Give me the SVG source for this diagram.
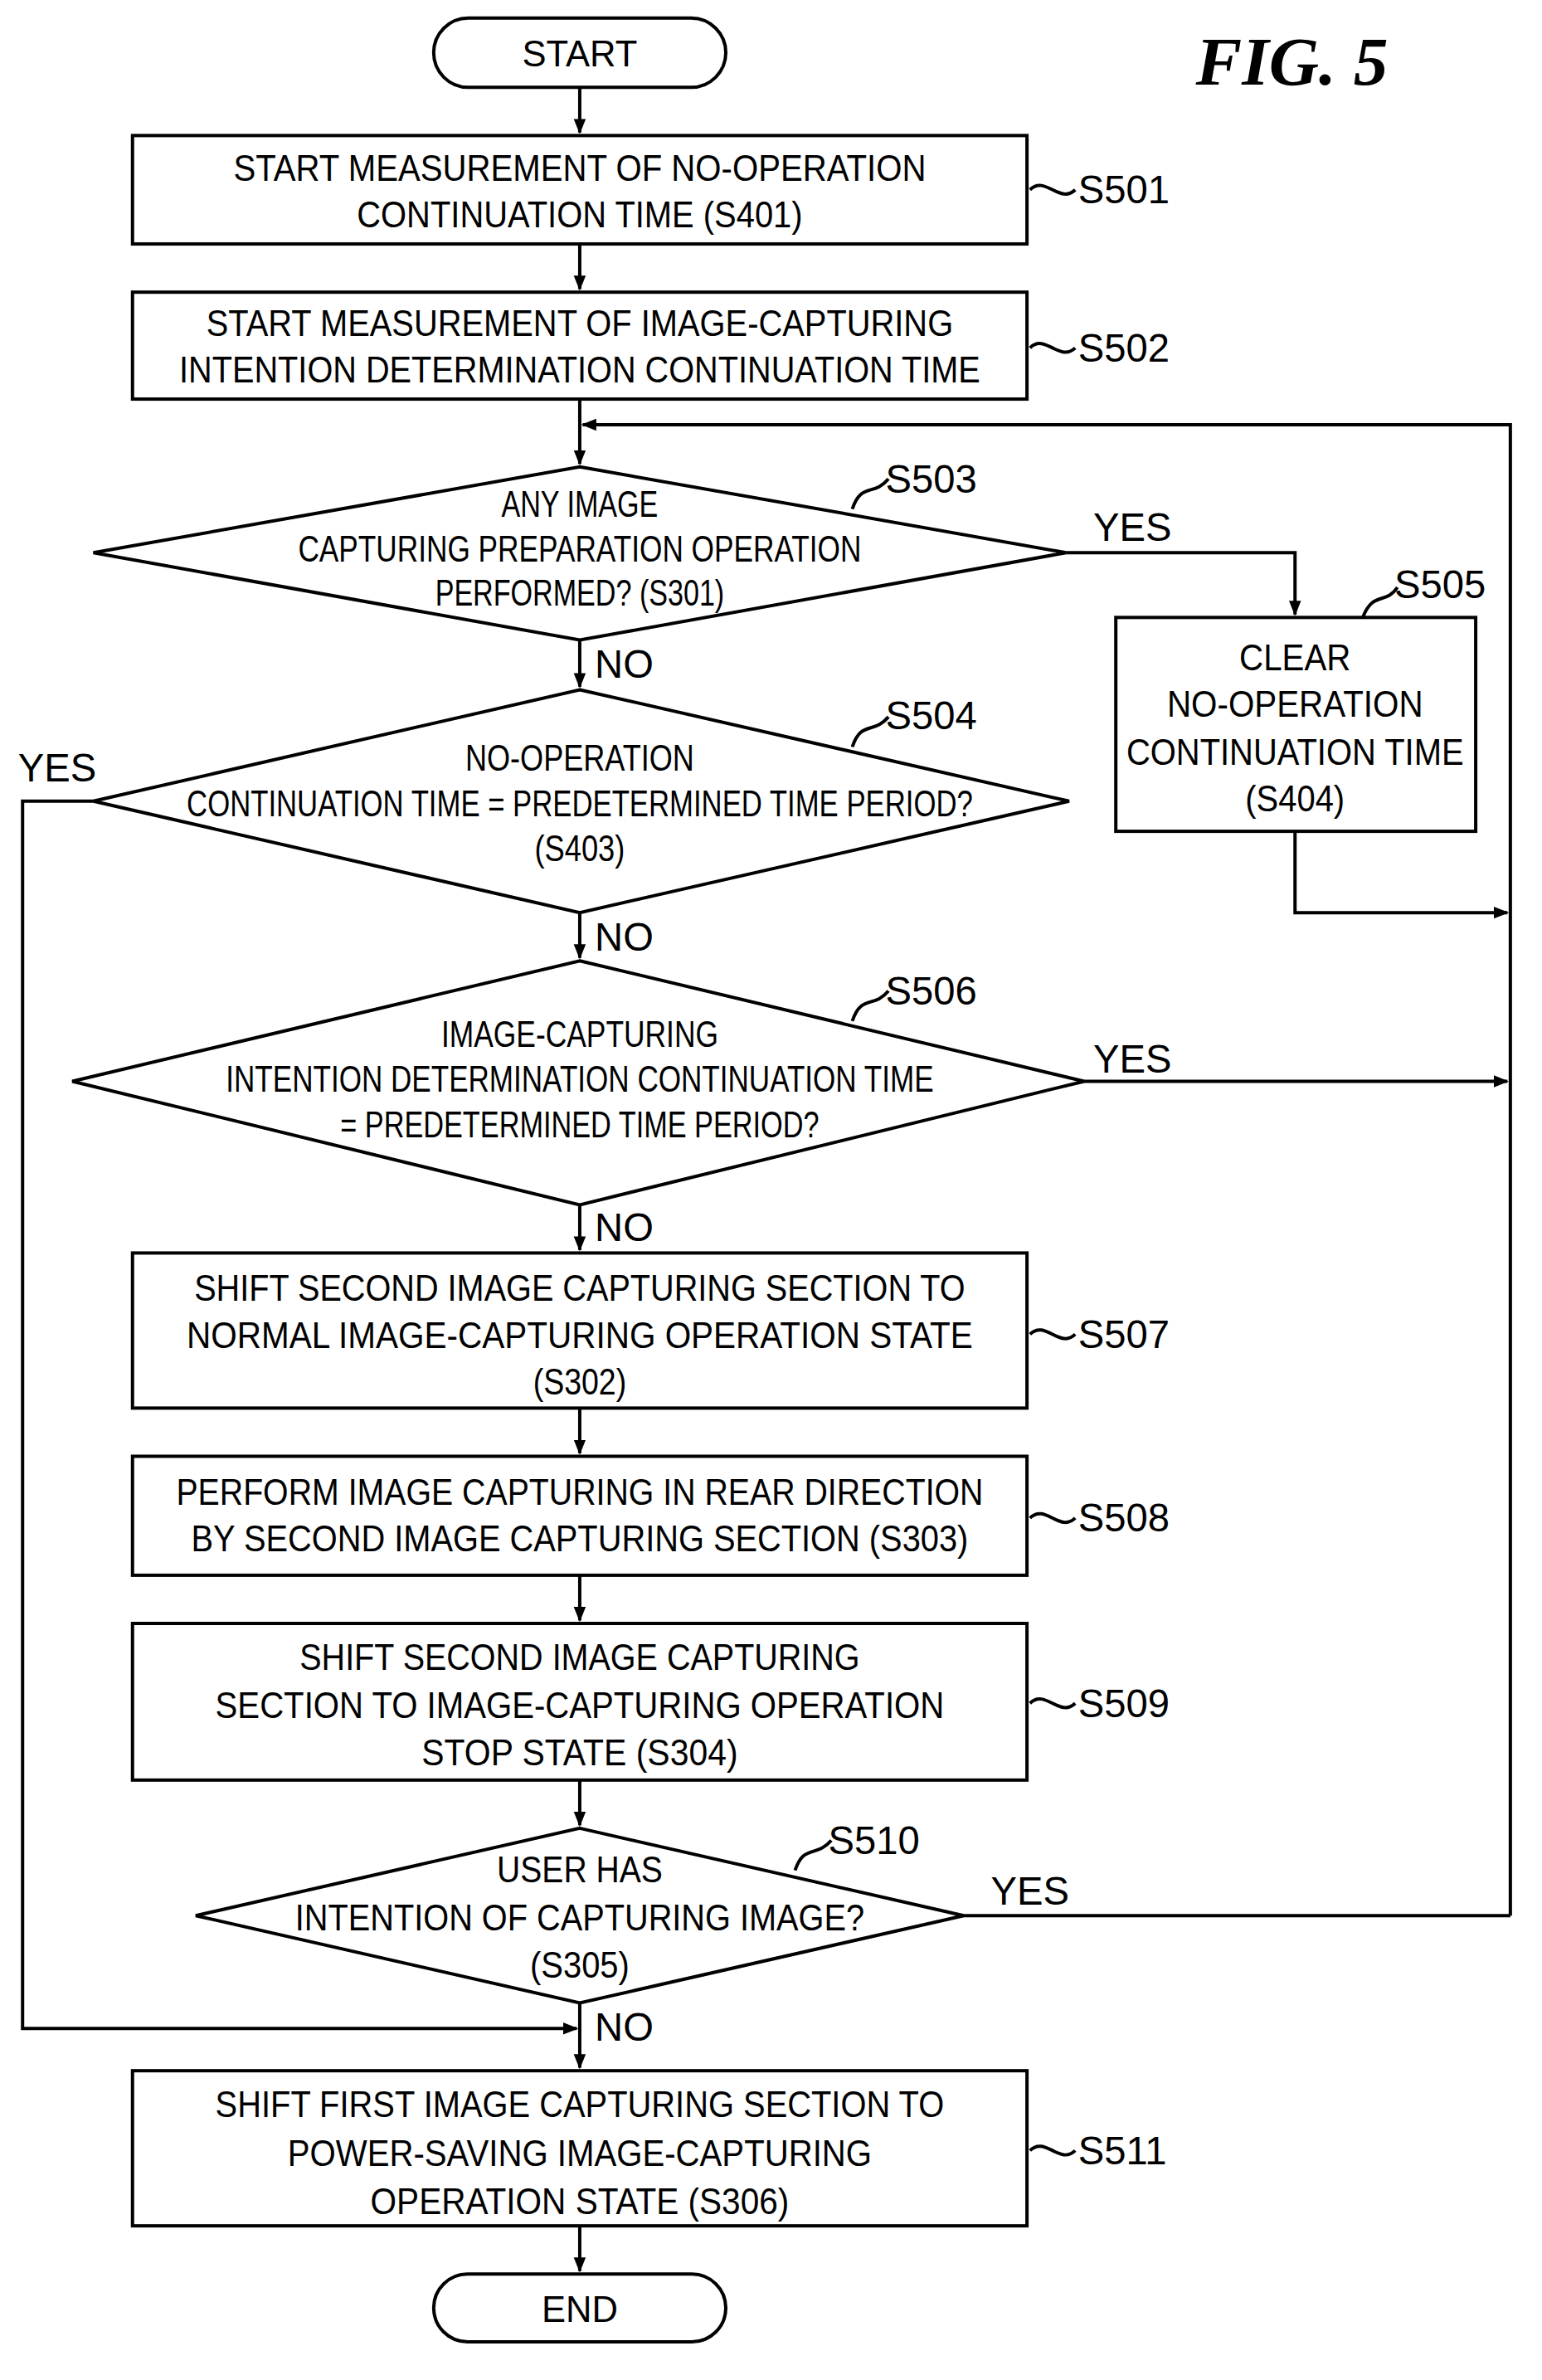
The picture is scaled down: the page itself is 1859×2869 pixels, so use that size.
<svg xmlns="http://www.w3.org/2000/svg" width="1859" height="2869" viewBox="0 0 1859 2869">
<defs>
<marker id="ah" markerWidth="10" markerHeight="10" refX="9" refY="5" orient="auto" markerUnits="userSpaceOnUse"><path d="M0,1 L10,5 L0,9 z" fill="#000"/></marker>
<style>
.s{fill:#fff;stroke:#000;stroke-width:2.2}
.l{fill:none;stroke:#000;stroke-width:2.2}
.t{font-family:"Liberation Sans",Arial,sans-serif;font-size:24px;text-anchor:middle;fill:#000}
.lb{font-family:"Liberation Sans",Arial,sans-serif;font-size:26px;fill:#000}
</style>
</defs>
<rect width="1859" height="2869" fill="#fff"/>
<g transform="scale(1.8154)">
<text x="858" y="56" font-family="Liberation Serif,serif" font-size="46" font-weight="bold" font-style="italic" text-anchor="middle">FIG. 5</text>
<g id="conn">
<path class="l" d="M385,58 V88" marker-end="url(#ah)"/>
<path class="l" d="M385,162 V192" marker-end="url(#ah)"/>
<path class="l" d="M385,265 V308" marker-end="url(#ah)"/>
<path class="l" d="M1003,1272 V282 H387" marker-end="url(#ah)"/>
<path class="l" d="M708,367 H860 V408" marker-end="url(#ah)"/>
<path class="l" d="M860,552 V606 H1001" marker-end="url(#ah)"/>
<path class="l" d="M385,425 V456" marker-end="url(#ah)"/>
<path class="l" d="M62,532 H15 V1347 H383" marker-end="url(#ah)"/>
<path class="l" d="M385,606 V636" marker-end="url(#ah)"/>
<path class="l" d="M720,718 H1001" marker-end="url(#ah)"/>
<path class="l" d="M385,800 V830" marker-end="url(#ah)"/>
<path class="l" d="M385,935 V965" marker-end="url(#ah)"/>
<path class="l" d="M385,1046 V1076" marker-end="url(#ah)"/>
<path class="l" d="M385,1182 V1212" marker-end="url(#ah)"/>
<path class="l" d="M640,1272 H1003"/>
<path class="l" d="M385,1330 V1373" marker-end="url(#ah)"/>
<path class="l" d="M385,1478 V1508" marker-end="url(#ah)"/>
<text class="lb" x="726" y="359">YES</text>
<text class="lb" x="12" y="519">YES</text>
<text class="lb" x="726" y="712">YES</text>
<text class="lb" x="658" y="1265">YES</text>
<text class="lb" x="395" y="450">NO</text>
<text class="lb" x="395" y="631">NO</text>
<text class="lb" x="395" y="824">NO</text>
<text class="lb" x="395" y="1355">NO</text>
</g>
<g id="start"><rect class="s" x="288" y="12" width="194" height="46" rx="23"/><text class="t" x="385" y="44">START</text></g>
<g id="s501"><rect class="s" x="88" y="90" width="594" height="72"/>
<text class="t" x="385" y="120" textLength="460" lengthAdjust="spacingAndGlyphs">START MEASUREMENT OF NO-OPERATION</text>
<text class="t" x="385" y="151" textLength="296" lengthAdjust="spacingAndGlyphs">CONTINUATION TIME (S401)</text>
<path class="l" d="M684,126 C694,116 704,136 714,126"/><text class="lb" x="716" y="135">S501</text></g>
<g id="s502"><rect class="s" x="88" y="194" width="594" height="71"/>
<text class="t" x="385" y="223" textLength="496" lengthAdjust="spacingAndGlyphs">START MEASUREMENT OF IMAGE-CAPTURING</text>
<text class="t" x="385" y="254" textLength="532" lengthAdjust="spacingAndGlyphs">INTENTION DETERMINATION CONTINUATION TIME</text>
<path class="l" d="M684,231 C694,221 704,241 714,231"/><text class="lb" x="716" y="240">S502</text></g>
<g id="s503"><polygon class="s" points="385,310 708,367 385,425 62,367"/>
<text class="t" x="385" y="343" textLength="104" lengthAdjust="spacingAndGlyphs">ANY IMAGE</text>
<text class="t" x="385" y="373" textLength="374" lengthAdjust="spacingAndGlyphs">CAPTURING PREPARATION OPERATION</text>
<text class="t" x="385" y="402" textLength="192" lengthAdjust="spacingAndGlyphs">PERFORMED? (S301)</text>
<path class="l" d="M566,338 C572,320 580,330 590,318"/><text class="lb" x="588" y="327">S503</text></g>
<g id="s505"><rect class="s" x="741" y="410" width="239" height="142"/>
<text class="t" x="860" y="445" textLength="74" lengthAdjust="spacingAndGlyphs">CLEAR</text>
<text class="t" x="860" y="476" textLength="170" lengthAdjust="spacingAndGlyphs">NO-OPERATION</text>
<text class="t" x="860" y="508" textLength="224" lengthAdjust="spacingAndGlyphs">CONTINUATION TIME</text>
<text class="t" x="860" y="539" textLength="66" lengthAdjust="spacingAndGlyphs">(S404)</text>
<path class="l" d="M905,410 C912,392 920,402 928,390"/><text class="lb" x="926" y="397">S505</text></g>
<g id="s504"><polygon class="s" points="385,458 710,532 385,606 62,532"/>
<text class="t" x="385" y="512" textLength="152" lengthAdjust="spacingAndGlyphs">NO-OPERATION</text>
<text class="t" x="385" y="542" textLength="522" lengthAdjust="spacingAndGlyphs">CONTINUATION TIME = PREDETERMINED TIME PERIOD?</text>
<text class="t" x="385" y="572" textLength="60" lengthAdjust="spacingAndGlyphs">(S403)</text>
<path class="l" d="M566,496 C572,478 580,488 590,476"/><text class="lb" x="588" y="484">S504</text></g>
<g id="s506"><polygon class="s" points="385,638 720,718 385,800 48,718"/>
<text class="t" x="385" y="695" textLength="184" lengthAdjust="spacingAndGlyphs">IMAGE-CAPTURING</text>
<text class="t" x="385" y="725" textLength="470" lengthAdjust="spacingAndGlyphs">INTENTION DETERMINATION CONTINUATION TIME</text>
<text class="t" x="385" y="755" textLength="318" lengthAdjust="spacingAndGlyphs">= PREDETERMINED TIME PERIOD?</text>
<path class="l" d="M566,678 C572,660 580,670 590,658"/><text class="lb" x="588" y="667">S506</text></g>
<g id="s507"><rect class="s" x="88" y="832" width="594" height="103"/>
<text class="t" x="385" y="864" textLength="512" lengthAdjust="spacingAndGlyphs">SHIFT SECOND IMAGE CAPTURING SECTION TO</text>
<text class="t" x="385" y="895" textLength="522" lengthAdjust="spacingAndGlyphs">NORMAL IMAGE-CAPTURING OPERATION STATE</text>
<text class="t" x="385" y="926" textLength="62" lengthAdjust="spacingAndGlyphs">(S302)</text>
<path class="l" d="M684,886 C694,876 704,896 714,886"/><text class="lb" x="716" y="895">S507</text></g>
<g id="s508"><rect class="s" x="88" y="967" width="594" height="79"/>
<text class="t" x="385" y="999" textLength="536" lengthAdjust="spacingAndGlyphs">PERFORM IMAGE CAPTURING IN REAR DIRECTION</text>
<text class="t" x="385" y="1030" textLength="516" lengthAdjust="spacingAndGlyphs">BY SECOND IMAGE CAPTURING SECTION (S303)</text>
<path class="l" d="M684,1008 C694,998 704,1018 714,1008"/><text class="lb" x="716" y="1017">S508</text></g>
<g id="s509"><rect class="s" x="88" y="1078" width="594" height="104"/>
<text class="t" x="385" y="1109" textLength="372" lengthAdjust="spacingAndGlyphs">SHIFT SECOND IMAGE CAPTURING</text>
<text class="t" x="385" y="1141" textLength="484" lengthAdjust="spacingAndGlyphs">SECTION TO IMAGE-CAPTURING OPERATION</text>
<text class="t" x="385" y="1172" textLength="210" lengthAdjust="spacingAndGlyphs">STOP STATE (S304)</text>
<path class="l" d="M684,1131 C694,1121 704,1141 714,1131"/><text class="lb" x="716" y="1140">S509</text></g>
<g id="s510"><polygon class="s" points="385,1214 640,1272 385,1330 130,1272"/>
<text class="t" x="385" y="1250" textLength="110" lengthAdjust="spacingAndGlyphs">USER HAS</text>
<text class="t" x="385" y="1282" textLength="378" lengthAdjust="spacingAndGlyphs">INTENTION OF CAPTURING IMAGE?</text>
<text class="t" x="385" y="1313" textLength="66" lengthAdjust="spacingAndGlyphs">(S305)</text>
<path class="l" d="M528,1242 C534,1224 542,1234 552,1222"/><text class="lb" x="550" y="1231">S510</text></g>
<g id="s511"><rect class="s" x="88" y="1375" width="594" height="103"/>
<text class="t" x="385" y="1406" textLength="484" lengthAdjust="spacingAndGlyphs">SHIFT FIRST IMAGE CAPTURING SECTION TO</text>
<text class="t" x="385" y="1438" textLength="388" lengthAdjust="spacingAndGlyphs">POWER-SAVING IMAGE-CAPTURING</text>
<text class="t" x="385" y="1470" textLength="278" lengthAdjust="spacingAndGlyphs">OPERATION STATE (S306)</text>
<path class="l" d="M684,1428 C694,1418 704,1438 714,1428"/><text class="lb" x="716" y="1437">S511</text></g>
<g id="end"><rect class="s" x="288" y="1510" width="194" height="45" rx="22.5"/><text class="t" x="385" y="1542">END</text></g>
</g>
</svg>
